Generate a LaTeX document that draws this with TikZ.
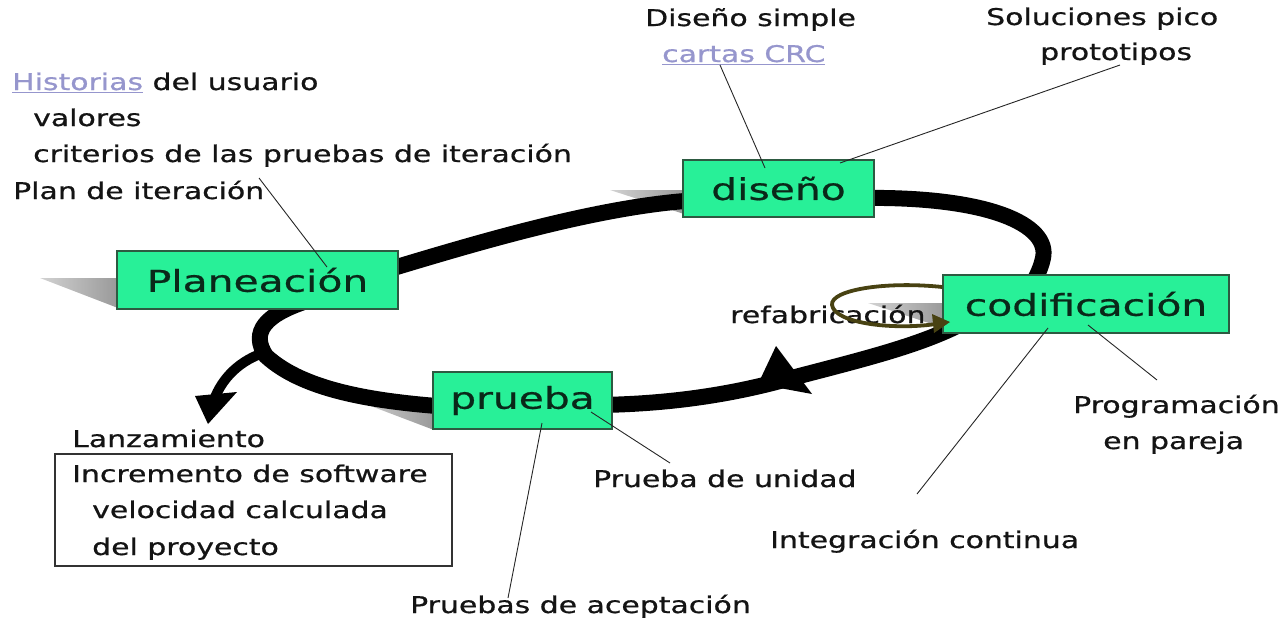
\documentclass[tikz,border=0pt]{standalone}
\usepackage{fontspec}
\setmainfont{DejaVu Sans}[FakeBold=0.6]
\usepackage{graphicx}
\usetikzlibrary{calc}
\definecolor{boxgreen}{RGB}{40,240,152}
\definecolor{boxline}{RGB}{45,90,65}
\definecolor{linkc}{RGB}{150,150,205}
\definecolor{olivec}{RGB}{72,66,18}
\definecolor{txt}{RGB}{20,20,20}
\definecolor{boxtxt}{RGB}{10,40,25}
\newcommand\lblfont{\fontsize{23}{28}\selectfont}
\newcommand\boxfont{\fontsize{30}{36}\selectfont}
\newcommand\wide[1]{\scalebox{1.3}[1]{#1}}
\newcommand\wideb[1]{\scalebox{1.36}[1]{#1}}
\begin{document}
\begin{tikzpicture}[x=1pt,y=-1pt,
  lab/.style={inner sep=0pt, anchor=base west, font=\lblfont, text=txt},
  stage/.style={draw=boxline, line width=1.2pt, fill=boxgreen, inner sep=0pt, font=\boxfont, text=boxtxt},
  loopline/.style={line width=16pt, black},
  leader/.style={line width=0.9pt, black!85},
  shadowc/.style={left color=gray!35, right color=gray!80}]
\useasboundingbox (0,0) rectangle (1281,625);

% ---------- coordinates of the loop ----------
\coordinate (l1a) at (380,272);
\coordinate (l1b) at (700,200);
\coordinate (l2a) at (860,198);
\coordinate (l2b) at (1043,258);
\coordinate (l2c) at (1030,290);
\coordinate (l3a) at (965,322);
\coordinate (l3b) at (780,381);
\coordinate (l3c) at (600,405);
\coordinate (l4a) at (450,407);
\coordinate (l4b) at (266,356);
\coordinate (l4c) at (310,300);
\coordinate (rl0) at (266,352);
\coordinate (rl1) at (214,400);

% ---------- shadows ----------
\shade[shadowc] (40,278) -- (118,278) -- (118,308) -- cycle;
\shade[shadowc] (610,190) -- (684,190) -- (684,214) -- cycle;
\shade[shadowc] (868,303) -- (944,303) -- (944,328) -- cycle;
\shade[shadowc] (355,400) -- (434,400) -- (434,430) -- cycle;

% ---------- main loop ----------
\draw[loopline] (l1a) .. controls (470,245) and (600,205) .. (l1b);
\draw[loopline] (l2a) .. controls (990,196) and (1050,225) .. (l2b)
                      .. controls (1040,272) and (1034,280) .. (l2c);
\draw[loopline] (l3a) .. controls (920,346) and (860,360) .. (l3b)
                      .. controls (720,397) and (660,404) .. (l3c);
\draw[loopline] (l4a) .. controls (380,402) and (305,392) .. (l4b)
                      .. controls (250,332) and (265,314) .. (l4c);
% arrowhead on loop
\fill[black] (758,384) -- (776,346) -- (812,394) -- cycle;
% release arrow
\draw[line width=10pt] (rl0) .. controls (240,360) and (222,378) .. (rl1);
\fill[black] (195,396) -- (237,392) -- (208,424) -- cycle;

% ---------- stage boxes ----------
\node[stage, minimum width=281pt, minimum height=58pt] (pl) at (257.5,280) {\wideb{Planeación}};
\node[stage, minimum width=191pt, minimum height=57pt] (di) at (778.5,188.5) {\wideb{diseño}};
\node[stage, minimum width=286pt, minimum height=58pt] (co) at (1086,304) {\wideb{codificación}};
\node[stage, minimum width=179pt, minimum height=57pt] (pr) at (522.5,400.5) {\wideb{prueba}};

% ---------- labels ----------
\node[lab] (hist) at (12,90) {\wide{\textcolor{linkc}{\underline{Historias}} del usuario}};
\node[lab] (val) at (33,126) {\wide{valores}};
\node[lab] (crit) at (33,162) {\wide{criterios de las pruebas de iteración}};
\node[lab] (plan) at (13,199) {\wide{Plan de iteración}};

\node[lab] (dsimp) at (645,26) {\wide{Diseño simple}};
\node[lab, text=linkc] (crc) at (662,62) {\wide{\underline{cartas CRC}}};
\node[lab] (sol) at (986,25) {\wide{Soluciones pico}};
\node[lab] (proto) at (1040,60) {\wide{prototipos}};

\node[lab] (refab) at (730,323) {\wide{refabricación}};
\node[lab] (prog) at (1073,413) {\wide{Programación}};
\node[lab] (pareja) at (1103,449) {\wide{en pareja}};
\node[lab] (integ) at (770,548) {\wide{Integración continua}};
\node[lab] (unidad) at (593,487) {\wide{Prueba de unidad}};
\node[lab] (acept) at (410,613) {\wide{Pruebas de aceptación}};

\node[lab] (lanz) at (72,447) {\wide{Lanzamiento}};
\node[draw=black!80, line width=1.2pt, inner sep=0pt, minimum width=397pt, minimum height=112pt] (lzbox) at (253.5,510) {};
\node[lab] (incr) at (72,482) {\wide{Incremento de software}};
\node[lab] (velo) at (92,518) {\wide{velocidad calculada}};
\node[lab] (delp) at (92,555) {\wide{del proyecto}};

% ---------- refactoring loop ----------
\draw[olivec, line width=3.8pt] (co.west |- 0,287) .. controls (885,281) and (830,290) .. (832,305)
      .. controls (835,324) and (895,330) .. (936,324);
\fill[olivec] (950,322) -- (932,314) -- (934,333) -- cycle;

% ---------- leader lines ----------
\coordinate (plan-e) at (259,178);
\coordinate (pl-in) at (327,267);
\draw[leader] (plan-e) -- (pl-in);
\coordinate (crc-s) at (720,65);
\coordinate (di-in1) at (765,168);
\draw[leader] (crc-s) -- (di-in1);
\coordinate (proto-s) at (1120,65);
\coordinate (di-in2) at (840,163);
\draw[leader] (proto-s) -- (di-in2);
\coordinate (co-in1) at (1088,325);
\coordinate (prog-n) at (1157,380);
\draw[leader] (co-in1) -- (prog-n);
\coordinate (co-in2) at (1048,328);
\coordinate (integ-n) at (917,494);
\draw[leader] (co-in2) -- (integ-n);
\coordinate (pr-in1) at (591,412);
\coordinate (unidad-n) at (670,463);
\draw[leader] (pr-in1) -- (unidad-n);
\coordinate (pr-in2) at (542,423);
\coordinate (acept-n) at (508,598);
\draw[leader] (pr-in2) -- (acept-n);
\end{tikzpicture}
\end{document}
